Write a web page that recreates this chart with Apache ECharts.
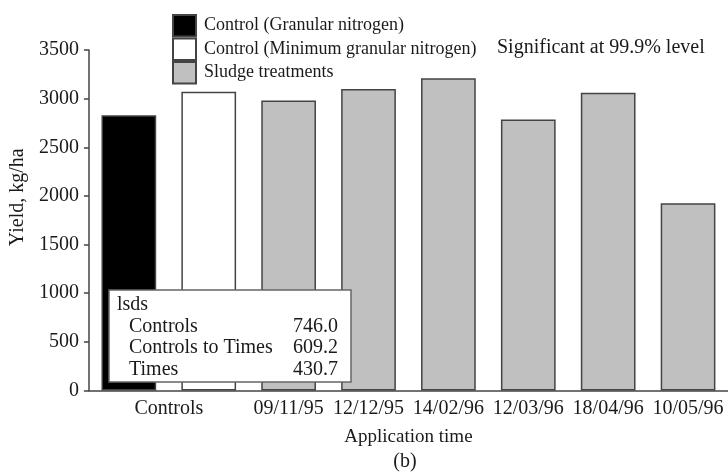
<!DOCTYPE html>
<html>
<head>
<meta charset="utf-8">
<script src="https://cdn.jsdelivr.net/npm/echarts@6/dist/echarts.min.js"></script>
<style>
html,body{margin:0;padding:0;background:#fff;}
#chart{width:728px;height:476px;}
</style>
</head>
<body>
<div id="chart"></div>
<script>
const categories = ['Control (Granular nitrogen)', 'Control (Minimum granular nitrogen)', '09/11/95', '12/12/95', '14/02/96', '12/03/96', '18/04/96', '10/05/96'];
const tickLabels = ['Controls', '', '09/11/95', '12/12/95', '14/02/96', '12/03/96', '18/04/96', '10/05/96'];
const seriesNames = ['Control (Granular nitrogen)', 'Control (Minimum granular nitrogen)', 'Sludge treatments'];
const granularControl = [2830, '-', '-', '-', '-', '-', '-', '-'];
const minimumControl = ['-', 3070, '-', '-', '-', '-', '-', '-'];
const sludgeTreatments = ['-', '-', 2980, 3100, 3210, 2785, 3060, 1925];
const yMin = 0, yMax = 3500, yInterval = 500;
const lsdTitle = 'lsds';
const lsdLabels = ['Controls', 'Controls to Times', 'Times'];
const lsdValues = ['746.0', '609.2', '430.7'];
const noteText = 'Significant at 99.9% level';
const panelLabel = '(b)';

const FONT = "'Liberation Serif', 'Times New Roman', serif";
const INK = '#1a1a1a';
const LINE = '#444';

const chart = echarts.init(document.getElementById('chart'), null, {renderer: 'canvas'});

const barStyle = (fill) => ({color: fill, borderColor: LINE, borderWidth: 1.5});

const lsdChildren = [
  {type: 'rect', z: 100, shape: {x: 109, y: 290, width: 242, height: 92},
   style: {fill: '#fff', stroke: '#666', lineWidth: 1.5}},
  {type: 'text', z: 101, x: 117, y: 305, style: {text: lsdTitle, font: '20px ' + FONT, fill: INK, verticalAlign: 'middle'}}
];
lsdLabels.forEach((t, i) => {
  lsdChildren.push({type: 'text', z: 101, x: 129, y: 326.5 + i * 21.5,
    style: {text: t, font: '20px ' + FONT, fill: INK, verticalAlign: 'middle'}});
  lsdChildren.push({type: 'text', z: 101, x: 338, y: 326.5 + i * 21.5,
    style: {text: lsdValues[i], font: '20px ' + FONT, fill: INK, verticalAlign: 'middle', align: 'right'}});
});

chart.setOption({
  animation: false,
  backgroundColor: '#fff',
  textStyle: {fontFamily: FONT, color: INK},
  grid: {left: 88, top: 50, width: 642, bottom: 85.5, containLabel: false},
  legend: {
    orient: 'vertical', left: 172, top: 14, padding: 0,
    itemWidth: 23, itemHeight: 21.5, itemGap: 0,
    icon: 'rect',
    selectedMode: false,
    data: seriesNames,
    textStyle: {fontFamily: FONT, fontSize: 18, color: INK, padding: [2, 0, 0, 3], lineHeight: 18}
  },
  xAxis: {
    type: 'category',
    data: categories,
    name: 'Application time',
    nameLocation: 'middle',
    nameGap: 37,
    nameTextStyle: {fontFamily: FONT, fontSize: 19, color: INK},
    axisLine: {lineStyle: {color: LINE, width: 1.5}},
    axisTick: {interval: 0, length: 5, lineStyle: {color: LINE, width: 1.5}},
    axisLabel: {
      interval: 0, margin: 8, fontFamily: FONT, fontSize: 20, color: INK,
      formatter: (v, i) => i === 0 ? '{s|' + tickLabels[i] + '}' : tickLabels[i],
      rich: {s: {fontFamily: FONT, fontSize: 20, color: INK, padding: [0, 0, 0, 80]}}
    }
  },
  yAxis: {
    type: 'value',
    min: yMin, max: yMax, interval: yInterval,
    name: 'Yield, kg/ha',
    nameLocation: 'middle',
    nameGap: 55,
    nameTextStyle: {fontFamily: FONT, fontSize: 20, color: INK, padding: [0, 0, 0, 46]},
    axisLine: {show: true, lineStyle: {color: LINE, width: 1.5}},
    axisTick: {show: true, length: 5, lineStyle: {color: LINE, width: 1.5}},
    axisLabel: {fontFamily: FONT, fontSize: 20, color: INK, margin: 10, formatter: (v) => String(v)},
    splitLine: {show: false}
  },
  series: [
    {name: seriesNames[0], type: 'bar', stack: 'all', barWidth: '68.5%', data: granularControl, itemStyle: barStyle('#000')},
    {name: seriesNames[1], type: 'bar', stack: 'all', barWidth: '68.5%', data: minimumControl, itemStyle: barStyle('#fff')},
    {name: seriesNames[2], type: 'bar', stack: 'all', barWidth: '68.5%', data: sludgeTreatments, itemStyle: barStyle('#c0c0c0')}
  ],
  graphic: [
    {type: 'text', z: 100, x: 497, y: 48, style: {text: noteText, font: '20px ' + FONT, fill: INK, verticalAlign: 'middle'}},
    {type: 'text', z: 100, x: 405, y: 462, style: {text: panelLabel, font: '20px ' + FONT, fill: INK, verticalAlign: 'middle', align: 'center'}},
    {type: 'group', z: 100, children: lsdChildren}
  ]
});
</script>
</body>
</html>
